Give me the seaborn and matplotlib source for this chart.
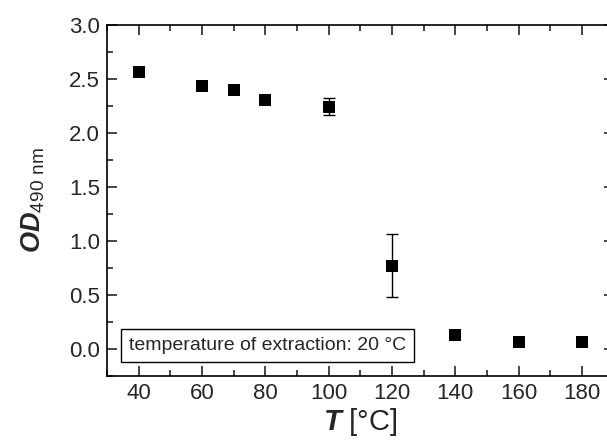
import numpy as np
import pandas as pd
import seaborn as sns
import matplotlib.pyplot as plt
from matplotlib.ticker import MultipleLocator

# values
temp = [40, 60, 70, 80, 100, 120, 140, 160, 180]
od = [2.56, 2.43, 2.40, 2.30, 2.24, 0.77, 0.13, 0.06, 0.06]
od_err = [0, 0, 0, 0, 0.08, 0.29, 0, 0, 0]
box_text = 'temperature of extraction: 20 °C'

df = pd.DataFrame({'T': temp, 'OD': od, 'err': od_err})

sns.set_theme(style='ticks')
plt.rcParams['font.family'] = ['Liberation Sans', 'DejaVu Sans']
plt.rcParams['mathtext.fontset'] = 'custom'
plt.rcParams['mathtext.rm'] = 'Liberation Sans'
plt.rcParams['mathtext.bf'] = 'Liberation Sans:bold:italic'

fig = plt.figure(figsize=(6.07, 4.41), dpi=100)
ax = fig.add_axes([0.176, 0.148, 0.835, 0.796])

e = df[df.err > 0]
ax.errorbar(e['T'], e['OD'], yerr=e['err'], fmt='none', ecolor='black',
            elinewidth=1, capsize=4, capthick=1, zorder=2)
sns.scatterplot(data=df, x='T', y='OD', marker='s', color='black', s=80,
                edgecolor='black', linewidth=0, ax=ax, zorder=3)

ax.xaxis.set_minor_locator(MultipleLocator(10))
ax.yaxis.set_major_locator(MultipleLocator(0.5))
ax.yaxis.set_minor_locator(MultipleLocator(0.25))
ax.set_xticks(np.arange(40, 181, 20))
ax.set_xlim(30, 190)
ax.set_ylim(-0.25, 3.0)
ax.yaxis.set_major_formatter(plt.FormatStrFormatter('%.1f'))
ax.tick_params(which='both', direction='in', top=True, right=True, width=1.2)
ax.tick_params(which='major', length=7, labelsize=16, pad=5)
ax.tick_params(which='minor', length=4)
for s in ax.spines.values():
    s.set_linewidth(1.2)
    s.set_color('black')

ax.set_xlabel(r'$\mathbf{T}$ [°C]', fontsize=21, labelpad=2)
ax.set_ylabel(r'$\mathbf{OD}_{\mathrm{490\ nm}}$', fontsize=19.5, labelpad=16)

ax.text(34.4 + 2.5, 0.03, box_text, fontsize=14, va='center', ha='left',
        bbox=dict(boxstyle='square,pad=0.4', fc='white', ec='black', lw=1))

fig.savefig('out.png', dpi=100)
